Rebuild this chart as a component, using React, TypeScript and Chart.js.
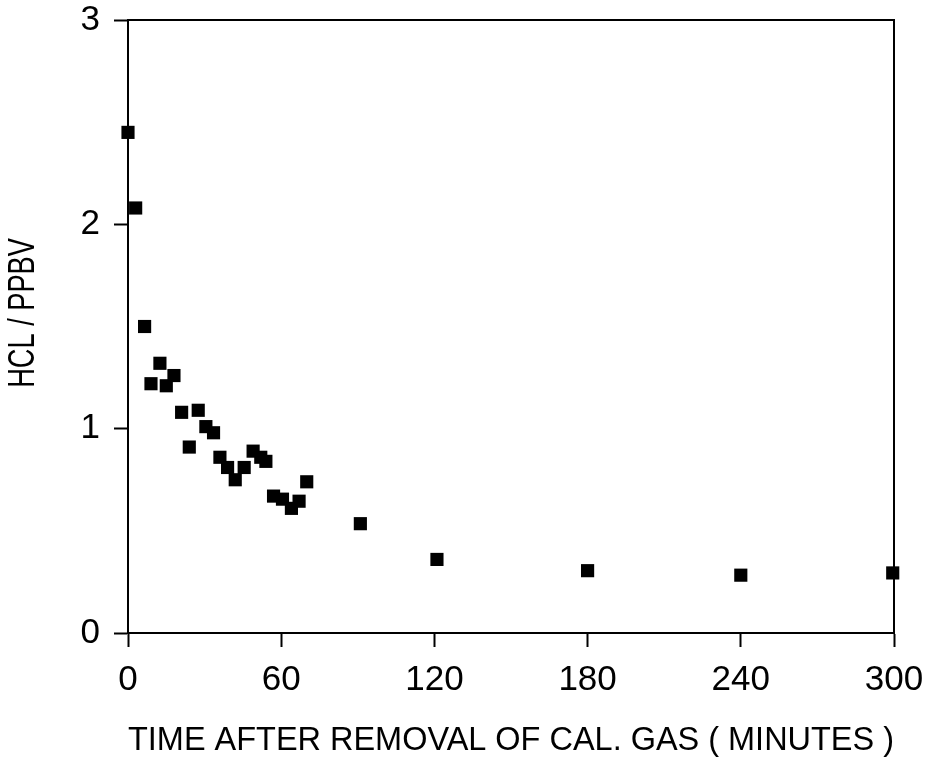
import React, { useEffect, useRef } from "react";
import { Chart, registerables } from "chart.js";

Chart.register(...registerables);

const timeMinutes = [0, 3, 6.5, 9, 12.5, 15, 18, 21, 24, 27.5, 30.5, 33.5, 36, 39, 42, 45.5, 49, 52, 54, 57, 60.5, 64, 67, 70, 91, 121, 180, 240, 299.5];
const hclPpbv = [2.45, 2.08, 1.5, 1.22, 1.32, 1.21, 1.26, 1.08, 0.91, 1.09, 1.01, 0.98, 0.86, 0.81, 0.75, 0.81, 0.89, 0.86, 0.84, 0.67, 0.655, 0.61, 0.645, 0.74, 0.535, 0.36, 0.305, 0.283, 0.294];
const xTicks = [0, 60, 120, 180, 240, 300];
const yTicks = [0, 1, 2, 3];
const xTitle = "TIME AFTER REMOVAL OF CAL. GAS ( MINUTES )";
const yTitle = "HCL / PPBV";

const FONT = "'Liberation Sans', Arial, Helvetica, sans-serif";

const framePlugin = {
  id: "frame",
  afterDraw(chart: any) {
    const { ctx, chartArea } = chart;
    ctx.save();
    ctx.strokeStyle = "#000";
    ctx.lineWidth = 2;
    ctx.beginPath();
    ctx.moveTo(chartArea.left, chartArea.top);
    ctx.lineTo(chartArea.right, chartArea.top);
    ctx.lineTo(chartArea.right, chartArea.bottom);
    ctx.stroke();

    // y axis title, condensed like the reference lettering
    ctx.font = `37px ${FONT}`;
    ctx.fillStyle = "#000";
    ctx.textAlign = "center";
    ctx.textBaseline = "middle";
    ctx.translate(24, 313);
    ctx.rotate(-Math.PI / 2);
    ctx.scale(0.735, 1);
    ctx.fillText(yTitle, 0, 0);
    ctx.restore();
  },
};

export default function App() {
  const ref = useRef<HTMLCanvasElement | null>(null);
  useEffect(() => {
    if (!ref.current) return;
    const data = timeMinutes.map((x, i) => ({ x, y: hclPpbv[i] }));
    const chart = new Chart(ref.current, {
      type: "scatter",
      data: {
        datasets: [
          {
            data,
            pointStyle: "rect",
            pointRadius: 9.3,
            pointHoverRadius: 9.3,
            backgroundColor: "#000",
            borderColor: "#000",
            borderWidth: 0,
            clip: false as any,
          },
        ],
      },
      options: {
        animation: false,
        responsive: false,
        maintainAspectRatio: false,
        events: [],
        layout: { padding: { left: 8, top: 20, right: 37, bottom: 0 } },
        plugins: { legend: { display: false }, tooltip: { enabled: false } },
        scales: {
          x: {
            type: "linear",
            min: 0,
            max: 300,
            afterBuildTicks: (s: any) => {
              s.ticks = xTicks.map((v) => ({ value: v }));
            },
            afterFit: (s: any) => {
              s.height = 132;
              s.paddingLeft = 0;
              s.paddingRight = 0;
            },
            grid: { drawOnChartArea: false, drawTicks: true, tickLength: 14, tickWidth: 2, color: "#000" },
            border: { display: true, color: "#000", width: 2 },
            ticks: { color: "#000", padding: 12, maxRotation: 0, font: { family: FONT, size: 35 } },
            title: { display: true, text: xTitle, color: "#000", font: { family: FONT, size: 34 } },
          },
          y: {
            type: "linear",
            min: 0,
            max: 3,
            afterBuildTicks: (s: any) => {
              s.ticks = yTicks.map((v) => ({ value: v }));
            },
            afterFit: (s: any) => {
              s.width = 120;
              s.paddingTop = 0;
              s.paddingBottom = 0;
            },
            grid: { drawOnChartArea: false, drawTicks: true, tickLength: 14, tickWidth: 2, color: "#000" },
            border: { display: true, color: "#000", width: 2 },
            ticks: { color: "#000", padding: 14, font: { family: FONT, size: 35 } },
          },
        },
      },
      plugins: [framePlugin],
    });
    return () => chart.destroy();
  }, []);
  return (
    <div style={{ position: "absolute", left: 0, top: 0, width: 931, height: 765, background: "#fff" }}>
      <canvas ref={ref} width={931} height={765} style={{ width: 931, height: 765 }} />
    </div>
  );
}
